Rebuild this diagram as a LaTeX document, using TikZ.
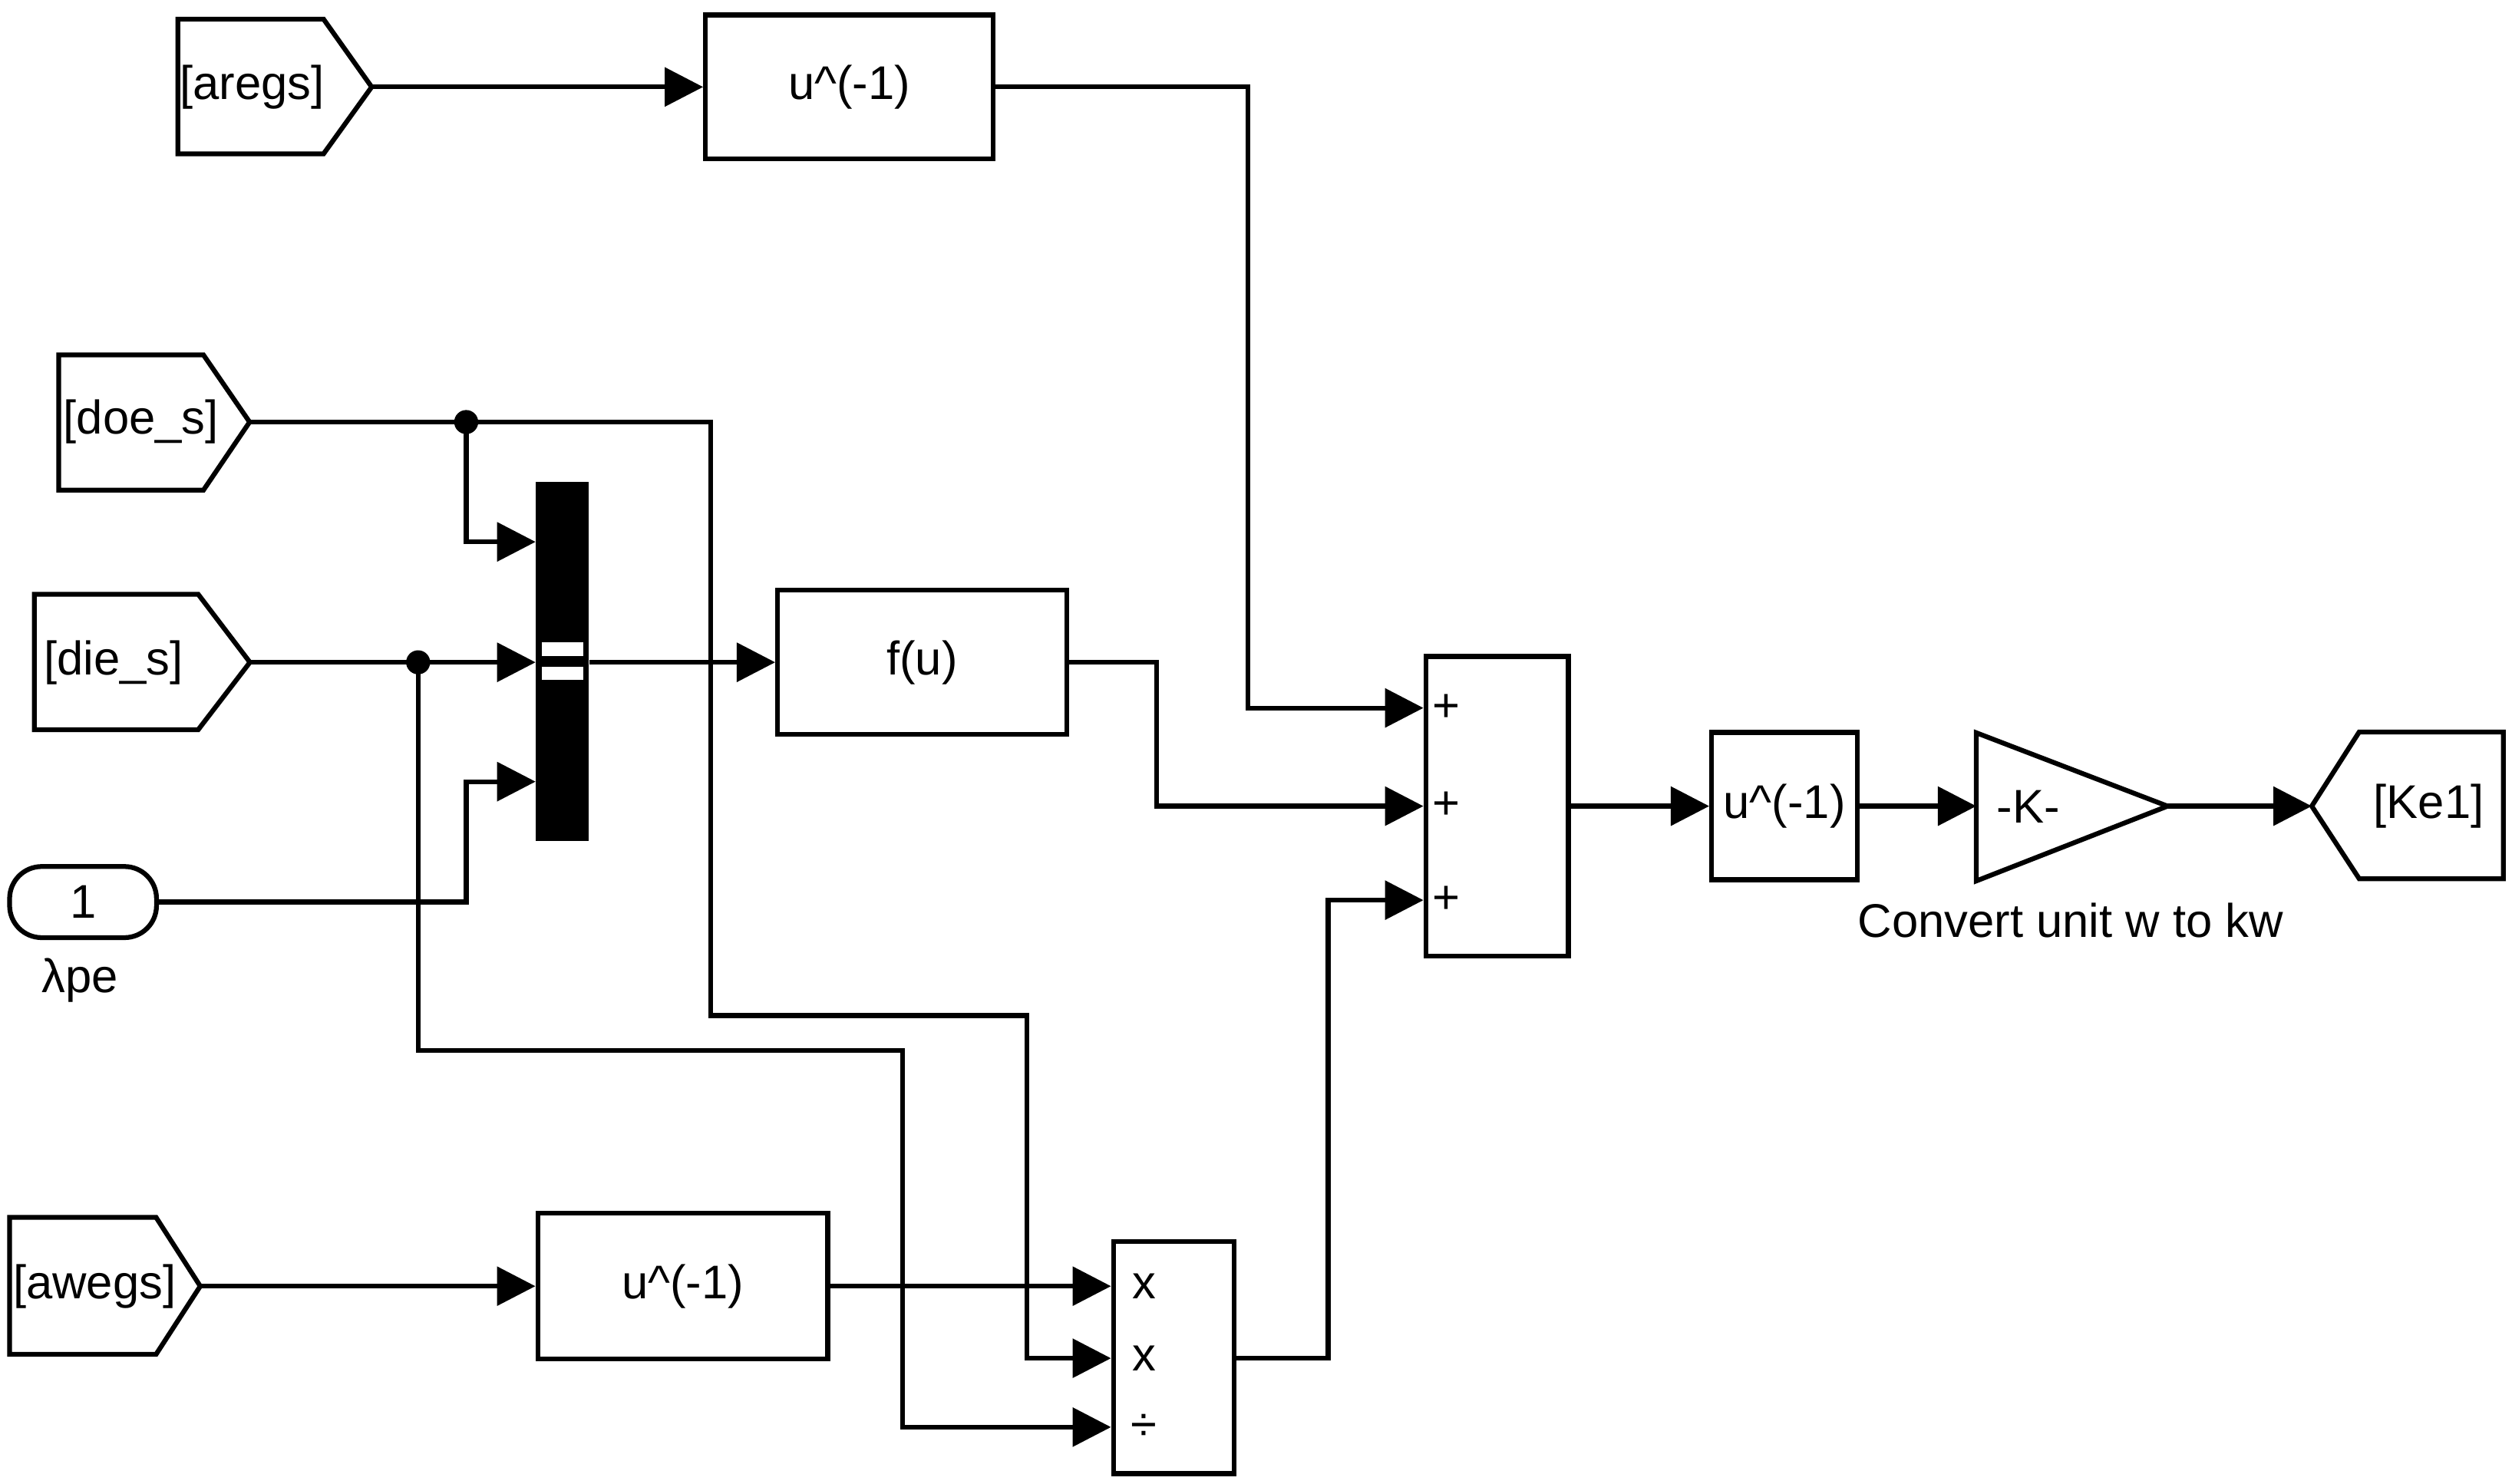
\documentclass[tikz,border=0pt]{standalone}
\usepackage{fontspec}
\setmainfont{Liberation Sans}
\usetikzlibrary{arrows.meta,calc}
\begin{document}
\begin{tikzpicture}[x=1pt,y=-1pt,
  every node/.style={font=\fontsize{29.5}{35}\selectfont, inner sep=0pt},
  blk/.style={draw, line width=3pt, rectangle},
  outline/.style={line width=3pt, line join=miter},
  wire/.style={line width=3pt, -{Triangle[length=24pt,width=24pt]}},
  dotj/.style={fill=black}
]
\useasboundingbox (0,0) rectangle (1568,926.5);

% ---- tags (From / Goto) ----
\draw[outline] (111,12) -- (202,12) -- (232,54.3) -- (202,96) -- (111,96) -- cycle;
\coordinate (aregsout) at (232,54.3);
\node (aregs) at (157.5,54.3) {[aregs]};

\draw[outline] (36.7,221.6) -- (127,221.6) -- (155.8,263.5) -- (127,306) -- (36.7,306) -- cycle;
\coordinate (doeout) at (155.8,263.5);
\node (doe) at (88,263.5) {[doe\_s]};

\draw[outline] (21.4,371) -- (123.7,371) -- (156,413.5) -- (123.7,455.6) -- (21.4,455.6) -- cycle;
\coordinate (dieout) at (156,413.5);
\node (die) at (71,413.5) {[die\_s]};

\draw[outline] (6,760) -- (97.4,760) -- (125,803) -- (97.4,845.6) -- (6,845.6) -- cycle;
\coordinate (awegsout) at (125,803);
\node (awegs) at (59,803) {[awegs]};

\draw[outline] (1443,503.3) -- (1472.6,457) -- (1562.6,457) -- (1562.6,548.6) -- (1472.6,548.6) -- cycle;
\coordinate (kein) at (1443,503.3);
\node (ke) at (1516,503.3) {[Ke1]};

% ---- constant ----
\node[blk, rounded corners=20pt, minimum width=91.7pt, minimum height=44.4pt] (const) at (51.85,563.2) {1};
\node (lpe) at (50,612) {λpe};

% ---- blocks ----
\node[blk, minimum width=179.6pt, minimum height=90pt] (inv1) at (530.2,54.3) {u\textasciicircum(-1)};
\node[blk, minimum width=180.4pt, minimum height=90pt] (fu) at (575.6,413.5) {f(u)};
\node[blk, minimum width=181pt, minimum height=91pt] (inv3) at (426.2,803) {u\textasciicircum(-1)};
\node[blk, minimum width=91pt, minimum height=92pt] (inv2) at (1113.9,503.3) {u\textasciicircum(-1)};

\node[blk, minimum width=89pt, minimum height=187pt] (sum) at (934.5,503.3) {};
\node (pl1) at (903,442) {+};
\node (pl2) at (903,503) {+};
\node (pl3) at (903,562) {+};

\node[blk, minimum width=75.5pt, minimum height=145pt] (prod) at (732.75,847.5) {};
\node (x1) at (714,803) {x};
\node (x2) at (714,848) {x};
\node (dv) at (714,891) {÷};

% mux
\node[fill=black, minimum width=33pt, minimum height=224pt] (mux) at (351,413) {};
\fill[white] (338,401) rectangle (364,409.5);
\fill[white] (338,416.5) rectangle (364,424.5);

% gain
\draw[outline] (1233.6,457.5) -- (1353,503.3) -- (1233.6,550) -- cycle;
\coordinate (gin) at (1233.6,503.3);
\coordinate (gout) at (1353,503.3);
\node (gk) at (1266,503.5) {-K-};
\node[anchor=base] (glbl) at (1292.5,585) {Convert unit w to kw};

% ---- ports ----
\coordinate (s1) at (sum.west |- 0,442);
\coordinate (s2) at (sum.west |- 0,503.3);
\coordinate (s3) at (sum.west |- 0,562);
\coordinate (p1) at (prod.west |- 0,803);
\coordinate (p2) at (prod.west |- 0,848);
\coordinate (p3) at (prod.west |- 0,891);
\coordinate (m1) at (mux.west |- 0,338.3);
\coordinate (m2) at (mux.west |- 0,413.5);
\coordinate (m3) at (mux.west |- 0,488);
\coordinate (mo) at (mux.east |- 0,413.5);
\coordinate (po) at (prod.east |- 0,848);
\coordinate (dot1) at (291,263.5);
\coordinate (dot2) at (261,413.5);

% ---- wires ----
\draw[wire] (aregsout) -- (inv1.west);
\draw[wire] (inv1.east) -- (779,54.3) -- (779,442) -- (s1);
\draw[wire] (doeout) -- (443.5,263.5) -- (443.5,634) -- (641,634) -- (641,848) -- (p2);
\draw[wire] (dot1) -- (291,338.3) -- (m1);
\draw[wire] (dieout) -- (m2);
\draw[wire] (dot2) -- (261,656) -- (563.5,656) -- (563.5,891) -- (p3);
\draw[wire] (const.east) -- (291,563.2) -- (291,488) -- (m3);
\draw[wire] (mo) -- (fu.west);
\draw[wire] (fu.east) -- (722,413.5) -- (722,503.3) -- (s2);
\draw[wire] (sum.east) -- (inv2.west);
\draw[wire] (inv2.east) -- (gin);
\draw[wire] (gout) -- (kein);
\draw[wire] (awegsout) -- (inv3.west);
\draw[wire] (inv3.east) -- (p1);
\draw[wire] (po) -- (829,848) -- (829,562) -- (s3);

\fill[dotj] (dot1) circle[radius=7.5];
\fill[dotj] (dot2) circle[radius=7.5];
\end{tikzpicture}
\end{document}
